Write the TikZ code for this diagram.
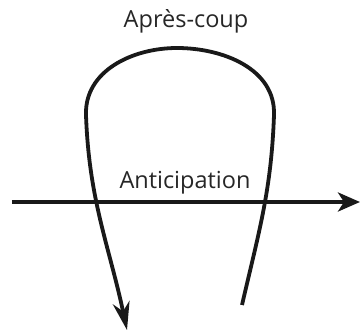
\documentclass[tikz,border=0pt]{standalone}
\usepackage{fontspec}
\setmainfont{Open Sans}
\usetikzlibrary{arrows.meta}
\begin{document}
\begin{tikzpicture}[x=1pt,y=1pt,
  curve/.style={line width=3.8pt,color=black!90},
  lbl/.style={font=\fontsize{23.5}{27}\selectfont,color=black!85,anchor=base,inner sep=0pt}]
\useasboundingbox (0,0) rectangle (360,-331);
\node[lbl] (apres) at (186,-27.7) {Après-coup};
\node[lbl] (antic) at (185,-188.5) {Anticipation};
\coordinate (hstart) at (12,-202);
\coordinate (hend) at (360,-202);
\coordinate (lstart) at (242,-305);
\coordinate (rtop) at (274,-115);
\coordinate (peak) at (177,-48);
\coordinate (ltop) at (86,-115);
\coordinate (lend) at (127,-330);
\draw[curve,-{Stealth[length=22pt,width=19pt,inset=6pt]}] (hstart) -- (hend);
\draw[curve,-{Stealth[length=28pt,width=17pt,inset=9pt]}]
  (lstart) to[out=77,in=-92] (rtop)
  to[out=88,in=0] (peak)
  to[out=180,in=92] (ltop)
  to[out=-88,in=102] (lend);
\end{tikzpicture}
\end{document}
